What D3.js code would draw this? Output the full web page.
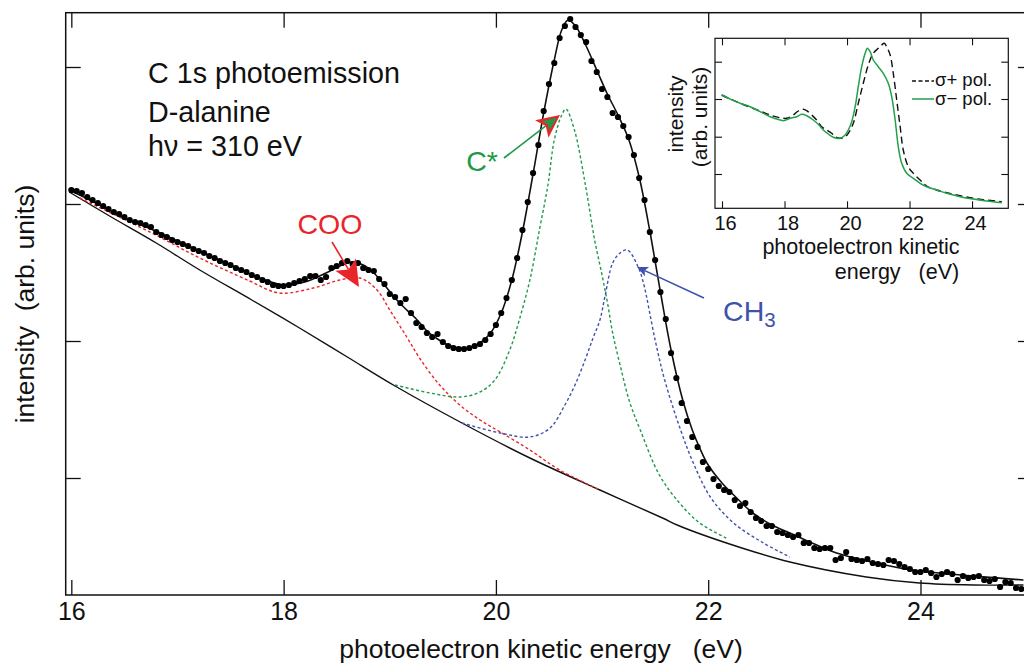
<!DOCTYPE html>
<html><head><meta charset="utf-8">
<script src="https://cdn.jsdelivr.net/npm/d3@7"></script>
<style>
body{margin:0;background:#fff}
svg{display:block}
text{font-family:"Liberation Sans", Arial, Helvetica, sans-serif; fill:#111}
</style>
</head><body><svg id="c" width="1024" height="665"></svg>
<script>
// ---------- main spectrum: measured points ----------
const energy = [
16.00,16.05,16.10,16.15,16.20,16.25,16.30,16.35,16.40,16.45,16.50,16.55,16.60,16.65,16.70,16.75,16.80,16.85,16.90,16.95,
17.00,17.05,17.10,17.15,17.20,17.25,17.30,17.35,17.40,17.45,17.50,17.55,17.60,17.65,17.70,17.75,17.80,17.85,17.90,17.95,
18.00,18.05,18.10,18.15,18.20,18.25,18.30,18.35,18.40,18.45,18.50,18.55,18.60,18.65,18.70,18.75,18.80,18.85,18.90,18.95,
19.00,19.05,19.10,19.15,19.20,19.25,19.30,19.35,19.40,19.45,19.50,19.55,19.60,19.65,19.70,19.75,19.80,19.85,19.90,19.95,
20.00,20.05,20.10,20.15,20.20,20.25,20.30,20.35,20.40,20.45,20.50,20.55,20.60,20.65,20.70,20.75,20.80,20.85,20.90,20.95,
21.00,21.05,21.10,21.15,21.20,21.25,21.30,21.35,21.40,21.45,21.50,21.55,21.60,21.65,21.70,21.75,21.80,21.85,21.90,21.95,
22.00,22.05,22.10,22.15,22.20,22.25,22.30,22.35,22.40,22.45,22.50,22.55,22.60,22.65,22.70,22.75,22.80,22.85,22.90,22.95,
23.00,23.05,23.10,23.15,23.20,23.25,23.30,23.35,23.40,23.45,23.50,23.55,23.60,23.65,23.70,23.75,23.80,23.85,23.90,23.95,
24.00,24.05,24.10,24.15,24.20,24.25,24.30,24.35,24.40,24.45,24.50,24.55,24.60,24.65,24.70,24.75,24.80,24.85,24.90,24.95];
const intensity = [
405,404,402,398,395,392,389,386,383,381,378,375,373,372,370,368,363,360,358,355,
353,351,349,346,344,342,339,337,334,332,330,327,325,323,320,318,315,313,310,309,
309,310,312,314,316,319,319,315,318,327,329,332,334,331,332,327,325,324,316,311,
301,298,292,296,282,272,268,262,258,261,253,249,247,246,246,247,249,251,255,261,
270,282,297,315,337,365,393,422,450,484,511,532,557,569,576,568,560,553,534,523,
506,498,482,478,469,458,440,417,395,363,335,303,276,242,217,192,174,158,148,133,
126,116,109,105,103,95,89,92,83,77,74,69,69,63,62,60,58,60,52,52,
47,46,47,47,35,37,43,36,35,34,36,32,31,30,35,34,31,28,26,23,
23,25,22,18,21,23,21,15,19,17,18,19,15,14,16,8,13,12,7,6];

// ---------- fit and components [energy, intensity] ----------
const fitCurve = [[16.0,404],[16.25,391],[16.5,377],[16.75,366],[17.0,354],[17.25,342],[17.5,330],[17.75,318],[18.0,310],[18.2,313],[18.4,322],[18.55,330],[18.65,333],[18.75,330],[18.85,322],[18.95,310],[19.05,297],[19.15,286],[19.25,276],[19.35,264],[19.45,256],[19.55,250],[19.65,247],[19.75,247],[19.85,252],[19.95,262],[20.05,282],[20.15,315],[20.25,363],[20.35,421],[20.45,482],[20.55,535],[20.62,565],[20.68,575],[20.75,569],[20.85,549],[20.95,525],[21.05,501],[21.15,480],[21.25,456],[21.35,418],[21.45,364],[21.55,303],[21.65,245],[21.76,195],[21.85,165],[21.92,147],[22.0,130],[22.13,112],[22.25,99],[22.42,82],[22.6,70],[22.77,62],[23.0,51],[23.21,42],[23.5,34],[23.92,25],[24.5,19],[24.97,15]];
const background = [[15.98,403],[16.36,379],[16.8,352],[17.21,325],[17.7,295],[18.15,267],[18.6,238],[19.05,209],[19.68,172],[20.32,137],[20.98,105],[21.57,77],[21.73,69],[22.23,50],[22.77,33],[23.49,18],[23.99,12],[24.5,10],[24.97,10]];
const cooPeak = [[16.08,397],[16.74,363],[17.21,337],[17.68,314],[17.96,302],[18.28,307],[18.53,315],[18.72,317],[18.88,305],[19.0,285],[19.16,258],[19.28,237],[19.47,210],[19.66,190],[19.85,175],[20.04,163],[20.32,145],[20.6,125],[20.98,105]];
const cStarPeak = [[19.05,210],[19.38,202],[19.66,198],[19.85,203],[19.99,215],[20.13,245],[20.22,275],[20.32,315],[20.41,365],[20.49,410],[20.55,455],[20.62,480],[20.66,486],[20.74,465],[20.84,412],[20.93,355],[20.99,325],[21.05,293],[21.1,262],[21.17,230],[21.26,193],[21.36,165],[21.54,120],[21.73,92],[21.92,72],[22.17,57]];
const ch3Peak = [[19.68,172],[20.04,162],[20.32,158],[20.51,167],[20.65,190],[20.745,210],[20.84,235],[20.915,257],[20.98,275],[21.03,300],[21.1,332],[21.17,342],[21.24,345],[21.34,328],[21.39,312],[21.5,255],[21.59,215],[21.74,165],[21.86,132],[22.02,98],[22.24,72],[22.52,52],[22.77,38]];
const xTicks = [16,18,20,22,24];
const yTicks = [117,254,391,528];

// ---------- inset: circular polarisation spectra [energy, intensity] ----------
const sigmaPlus = [[15.99,113.3],[16.26,109.3],[16.58,105],[16.9,101],[17.22,97.3],[17.54,93.3],[17.86,90.6],[18.07,90],[18.28,93.3],[18.44,97.3],[18.6,99],[18.71,97.6],[18.87,93.3],[19.03,88.3],[19.19,81.6],[19.35,78.3],[19.51,75],[19.62,71.6],[19.78,70],[19.94,71.6],[20.04,75],[20.2,85],[20.36,105],[20.52,125],[20.68,143.3],[20.84,155],[21.0,160],[21.11,163.3],[21.19,165],[21.27,161.6],[21.38,153.3],[21.48,135],[21.59,108.3],[21.7,81.6],[21.8,58.3],[21.96,41.6],[22.12,35],[22.34,28.3],[22.55,22.3],[22.87,18.3],[23.19,15.6],[23.62,12.6],[24.04,10],[24.47,8.3],[24.95,6.6]];
const sigmaMinus = [[15.99,113.3],[16.26,109.3],[16.58,105],[16.9,101.6],[17.22,96.6],[17.54,91.6],[17.86,88.3],[17.98,87.6],[18.18,90],[18.39,91.6],[18.55,94],[18.71,92.6],[18.92,88.3],[19.08,84],[19.24,78.3],[19.4,74.3],[19.56,71],[19.78,70],[19.94,73.3],[20.04,78.3],[20.15,86.6],[20.26,101.6],[20.36,121.6],[20.47,141.6],[20.58,155],[20.65,160],[20.74,156.6],[20.84,148.3],[21.0,141.6],[21.16,135],[21.32,125],[21.43,111.6],[21.54,88.3],[21.64,61.6],[21.75,45],[21.91,35],[22.12,30],[22.34,25],[22.55,21.6],[22.87,18.3],[23.19,15],[23.62,11.6],[24.04,9.3],[24.47,7.3],[24.95,5.6]];
const insetXTicks = [16,18,20,22,24];
const insetYTicks = [34.3,71.6,109.3,146.6];
const legendLabels = ["σ+ pol.","σ− pol."];

// ---------- drawing ----------
const svg = d3.select('#c');
const FONT = '"Liberation Sans", Arial, Helvetica, sans-serif';
const x = d3.scaleLinear().domain([15.947, 25.06]).range([65.7, 1033]);
const y = d3.scaleLinear().domain([0, 582.3]).range([595, 12.7]);

svg.append('defs').append('clipPath').attr('id','plotclip')
  .append('rect').attr('x',65.7).attr('y',12.7).attr('width',1033-65.7).attr('height',595-12.7);

function styleAxis(g){
  g.select('.domain').remove();
  g.selectAll('.tick line').attr('stroke','#111').attr('stroke-width',1.3);
  g.selectAll('.tick text').attr('font-family',FONT).attr('fill','#111');
}
svg.append('g').attr('transform','translate(0,595)')
  .call(d3.axisBottom(x).tickValues(xTicks).tickFormat(d3.format('d')).tickSizeInner(-15).tickSizeOuter(0).tickPadding(7))
  .call(styleAxis).selectAll('.tick text').attr('font-size',25);
svg.append('g').attr('transform','translate(0,12.7)')
  .call(d3.axisTop(x).tickValues(xTicks).tickFormat('').tickSizeInner(-15).tickSizeOuter(0)).call(styleAxis);
svg.append('g').attr('transform','translate(65.7,0)')
  .call(d3.axisLeft(y).tickValues(yTicks).tickFormat('').tickSizeInner(-15).tickSizeOuter(0)).call(styleAxis);
svg.append('g').attr('transform','translate(1033,0)')
  .call(d3.axisRight(y).tickValues(yTicks).tickFormat('').tickSizeInner(-15).tickSizeOuter(0)).call(styleAxis);
// frame
svg.append('rect').attr('x',65.7).attr('y',12.7).attr('width',1033-65.7).attr('height',595-12.7)
  .attr('fill','none').attr('stroke','#111').attr('stroke-width',1.5);

const plot = svg.append('g').attr('clip-path','url(#plotclip)');
const line = d3.line().x(d=>x(d[0])).y(d=>y(d[1])).curve(d3.curveCatmullRom.alpha(0.5));

plot.append('path').datum(background).attr('d',line).attr('fill','none').attr('stroke','#111').attr('stroke-width',1.4);
const dash = '3,2.4';
plot.append('path').datum(cooPeak).attr('d',line).attr('fill','none').attr('stroke','#e8262a').attr('stroke-width',1.4).attr('stroke-dasharray',dash);
plot.append('path').datum(cStarPeak).attr('d',line).attr('fill','none').attr('stroke','#1f9a48').attr('stroke-width',1.4).attr('stroke-dasharray',dash);
plot.append('path').datum(ch3Peak).attr('d',line).attr('fill','none').attr('stroke','#3d52ad').attr('stroke-width',1.4).attr('stroke-dasharray',dash);
plot.append('path').datum(fitCurve).attr('d',line).attr('fill','none').attr('stroke','#111').attr('stroke-width',1.6);
plot.selectAll('circle.pt').data(energy.map((e,i)=>[e,intensity[i]])).enter().append('circle')
  .attr('class','pt').attr('cx',d=>x(d[0])).attr('cy',d=>y(d[1])).attr('r',3.1).attr('fill','#000');

// axis titles
svg.append('text').attr('x',541).attr('y',658).attr('text-anchor','middle').attr('font-size',26.5)
  .style('white-space','pre').text('photoelectron kinetic energy   (eV)');
svg.append('text').attr('transform','translate(34,304) rotate(-90)').attr('text-anchor','middle').attr('font-size',26.5)
  .style('white-space','pre').text('intensity  (arb. units)');

// text block
const info = ['C 1s photoemission','D-alanine','hν = 310 eV'];
const infoY = [83,122,156];
info.forEach((t,i)=>svg.append('text').attr('x',148).attr('y',infoY[i]).attr('font-size',28.7).text(t));

// arrows (positions in data units)
function arrowHead(tip, from, L, W){
  const tx=x(tip[0]), ty=y(tip[1]), fx=x(from[0]), fy=y(from[1]);
  const d=Math.hypot(tx-fx,ty-fy), ux=(tx-fx)/d, uy=(ty-fy)/d, px=-uy, py=ux;
  const bx=tx-ux*L, by=ty-uy*L, nx=tx-ux*L*0.78, ny=ty-uy*L*0.78;
  return {pts:[[tx,ty],[bx+px*W,by+py*W],[nx,ny],[bx-px*W,by-py*W]], back:[nx,ny], from:[fx,fy], u:[ux,uy]};
}
function arrow(from, tip, shaftColor, headColor, L, W){
  const h = arrowHead(tip, from, L, W);
  svg.append('line').attr('x1',h.from[0]).attr('y1',h.from[1]).attr('x2',h.back[0]).attr('y2',h.back[1])
    .attr('stroke',shaftColor).attr('stroke-width',1.6);
  svg.append('polygon').attr('points',h.pts.map(p=>p.join(',')).join(' ')).attr('fill',headColor);
  return h;
}
// COO
arrow([18.456,353],[18.71,308],'#e8262a','#e8262a',26,12);
svg.append('text').attr('x',x(18.13)).attr('y',y(361)).attr('font-size',28.5).style('fill','#e8262a').text('COO');
// C*
const hc = arrow([20.076,437],[20.604,480],'#1f9a48','#e8262a',23,11);
{
  const tx=hc.pts[0][0]-hc.u[0]*4, ty=hc.pts[0][1]-hc.u[1]*4, L=14, W=6;
  const px=-hc.u[1], py=hc.u[0], bx=tx-hc.u[0]*L, by=ty-hc.u[1]*L;
  svg.append('polygon').attr('points',[[tx,ty],[bx+px*W,by+py*W],[tx-hc.u[0]*L*0.8,ty-hc.u[1]*L*0.8],[bx-px*W,by-py*W]].map(p=>p.join(',')).join(' ')).attr('fill','#1f9a48');
}
svg.append('text').attr('x',x(19.72)).attr('y',y(424)).attr('font-size',28.5).style('fill','#1f9a48').text('C*');
// CH3
arrow([21.96,297],[21.329,328],'#3d52ad','#3d52ad',11,5);
const ch = svg.append('text').attr('x',x(22.14)).attr('y',y(274)).attr('font-size',28.5).style('fill','#3d52ad');
ch.append('tspan').text('CH');
ch.append('tspan').attr('dy',6).attr('font-size',20.5).text('3');

// ---------- inset ----------
const xi = d3.scaleLinear().domain([15.776, 25.16]).range([715, 1008.3]);
const yi = d3.scaleLinear().domain([0, 170]).range([208.3, 38.3]);
const inset = svg.append('g');
inset.append('rect').attr('x',715).attr('y',38.3).attr('width',293.3).attr('height',170).attr('fill','#fff');
function styleInset(g){
  g.select('.domain').remove();
  g.selectAll('.tick line').attr('stroke','#111').attr('stroke-width',1.1);
  g.selectAll('.tick text').attr('font-family',FONT).attr('fill','#111').attr('font-size',20).attr('dx',3);
}
inset.append('g').attr('transform','translate(0,208.3)')
  .call(d3.axisBottom(xi).tickValues(insetXTicks).tickFormat(d3.format('d')).tickSizeInner(-7).tickSizeOuter(0).tickPadding(8)).call(styleInset);
inset.append('g').attr('transform','translate(0,38.3)')
  .call(d3.axisTop(xi).tickValues(insetXTicks).tickFormat('').tickSizeInner(-7).tickSizeOuter(0)).call(styleInset);
inset.append('g').attr('transform','translate(715,0)')
  .call(d3.axisLeft(yi).tickValues(insetYTicks).tickFormat('').tickSizeInner(-7).tickSizeOuter(0)).call(styleInset);
inset.append('g').attr('transform','translate(1008.3,0)')
  .call(d3.axisRight(yi).tickValues(insetYTicks).tickFormat('').tickSizeInner(-7).tickSizeOuter(0)).call(styleInset);
inset.append('rect').attr('x',715).attr('y',38.3).attr('width',293.3).attr('height',170)
  .attr('fill','none').attr('stroke','#111').attr('stroke-width',1.2);
const linei = d3.line().x(d=>xi(d[0])).y(d=>yi(d[1])).curve(d3.curveCatmullRom.alpha(0.5));
inset.append('path').datum(sigmaPlus).attr('d',linei).attr('fill','none').attr('stroke','#111').attr('stroke-width',1.4).attr('stroke-dasharray','7,4');
inset.append('path').datum(sigmaMinus).attr('d',linei).attr('fill','none').attr('stroke','#22a04a').attr('stroke-width',1.5);
// legend
inset.append('line').attr('x1',912).attr('x2',934).attr('y1',81).attr('y2',81).attr('stroke','#111').attr('stroke-width',1.4).attr('stroke-dasharray','4,2.5');
inset.append('line').attr('x1',912).attr('x2',934).attr('y1',99).attr('y2',99).attr('stroke','#22a04a').attr('stroke-width',1.5);
inset.append('text').attr('x',935).attr('y',86).attr('font-size',18.5).text(legendLabels[0]);
inset.append('text').attr('x',935).attr('y',105).attr('font-size',18.5).text(legendLabels[1]);
// inset titles
inset.append('text').attr('x',861).attr('y',254).attr('text-anchor','middle').attr('font-size',21.5).text('photoelectron kinetic');
inset.append('text').attr('x',897).attr('y',279).attr('text-anchor','middle').attr('font-size',21.5).style('white-space','pre').text('energy   (eV)');
inset.append('text').attr('transform','translate(683,114) rotate(-90)').attr('text-anchor','middle').attr('font-size',21).text('intensity');
inset.append('text').attr('transform','translate(707,117) rotate(-90)').attr('text-anchor','middle').attr('font-size',21).text('(arb. units)');
</script>
</body></html>
